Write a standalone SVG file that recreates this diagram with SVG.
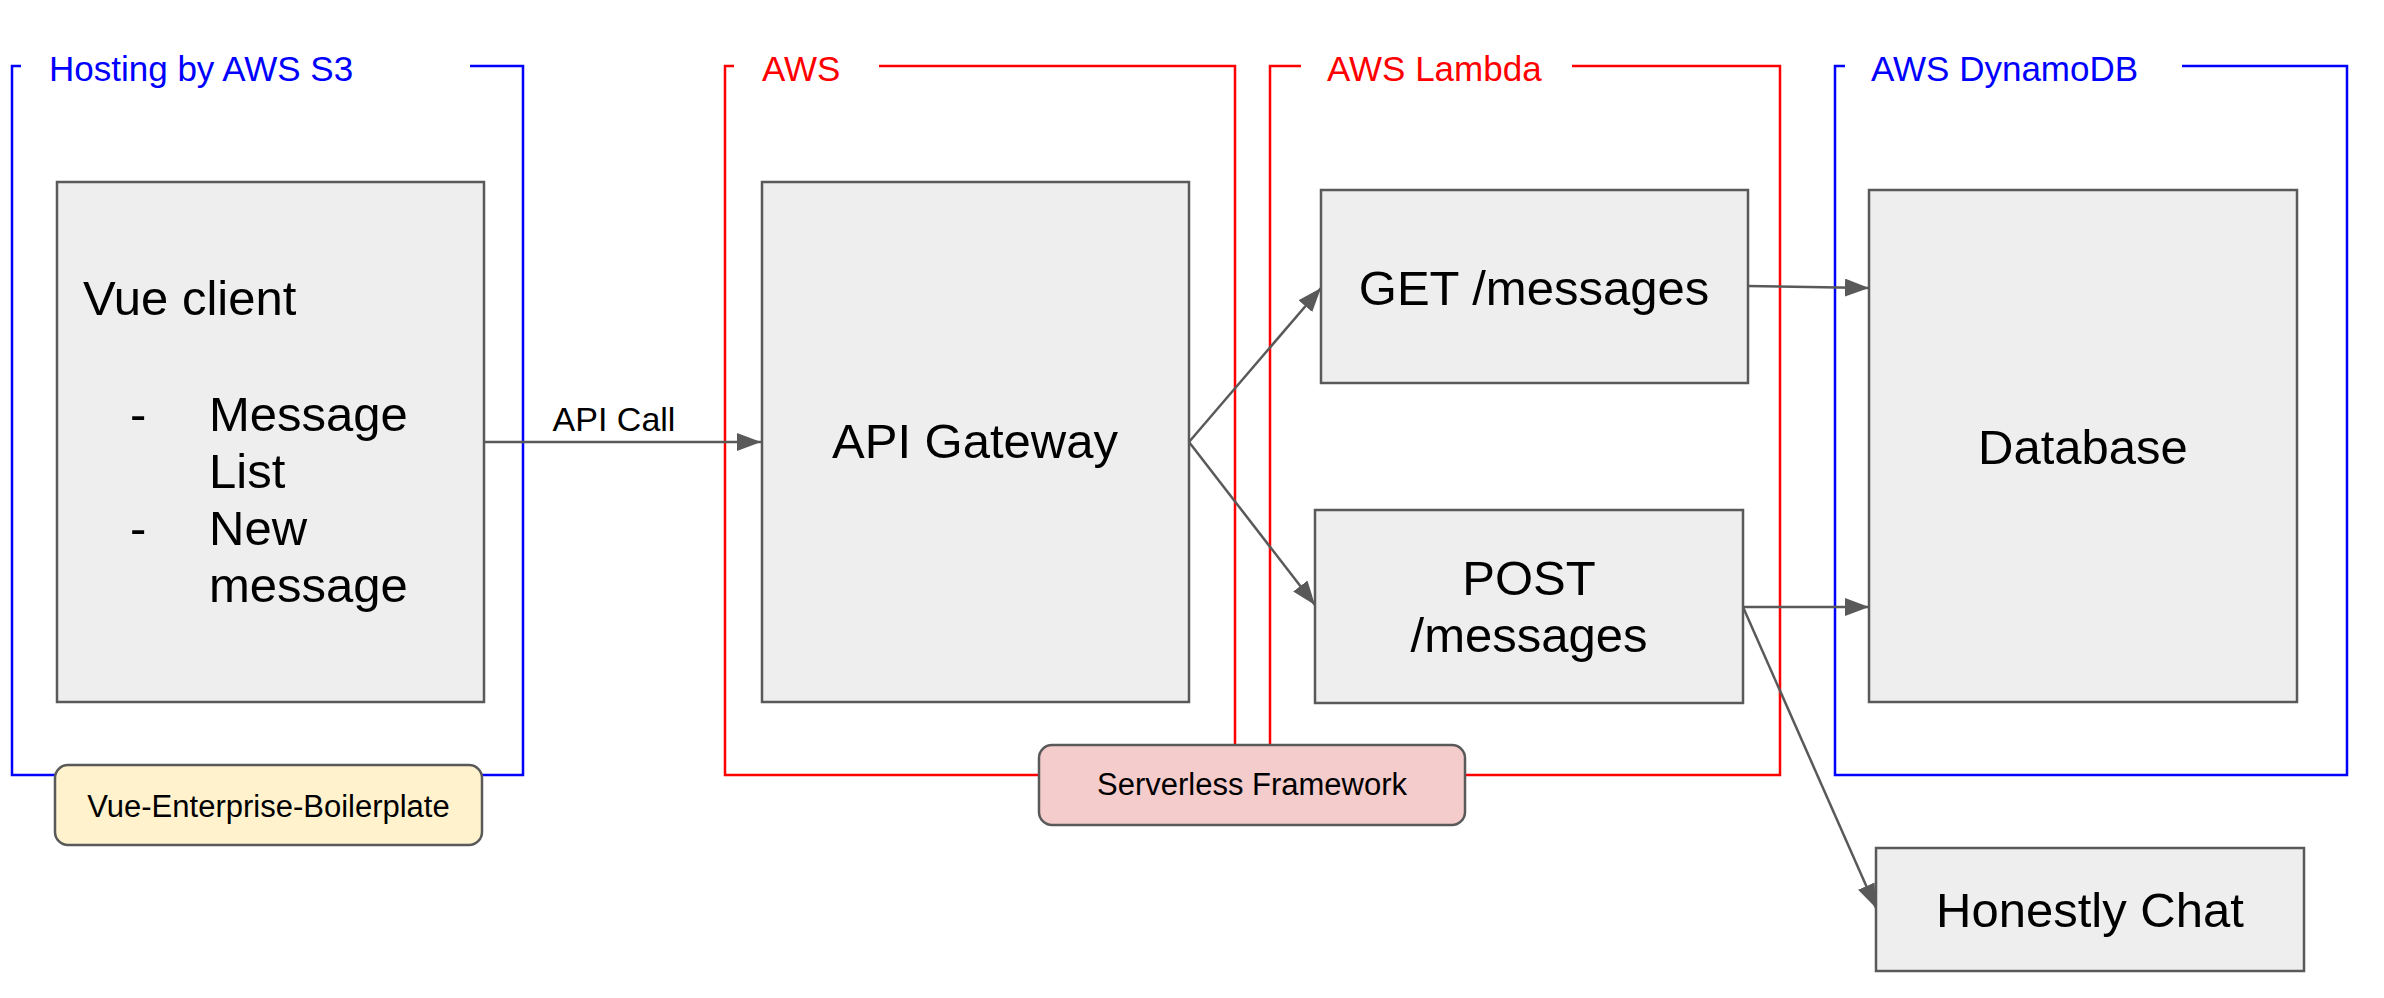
<svg xmlns="http://www.w3.org/2000/svg" width="2384" height="998" viewBox="0 0 2384 998">
<style>
.blue{fill:none;stroke:#0000ff;stroke-width:2.5}
.red{fill:none;stroke:#ff0000;stroke-width:2.5}
.btitle{fill:#0000ff;font-family:"Liberation Sans",Arial,sans-serif;font-size:35px}
.rtitle{fill:#ff0000;font-family:"Liberation Sans",Arial,sans-serif;font-size:35px}
.box{fill:#eeeeee;stroke:#595959;stroke-width:2.5}
.big{fill:#000;font-family:"Liberation Sans",Arial,sans-serif;font-size:49px}
.mid{fill:#000;font-family:"Liberation Sans",Arial,sans-serif;font-size:31px}
.lbl{fill:#000;font-family:"Liberation Sans",Arial,sans-serif;font-size:34px}
.conn{fill:none;stroke:#595959;stroke-width:2.5}
</style>
<defs>
<marker id="arr" markerUnits="userSpaceOnUse" markerWidth="26" markerHeight="20" refX="24" refY="9" orient="auto">
<path d="M0,0 L24,9 L0,18 Z" fill="#595959"/>
</marker>
</defs>
<g id="groups">
<g id="s3-group">
<path class="blue" d="M21,66 H12 V775 H523 V66 H470"/>
<text class="btitle" x="49" y="81">Hosting by AWS S3</text>
</g>
<g id="aws-group">
<path class="red" d="M734,66 H725 V775 H1235 V66 H879"/>
<text class="rtitle" x="762" y="81">AWS</text>
</g>
<g id="lambda-group">
<path class="red" d="M1301,66 H1270 V775 H1780 V66 H1572"/>
<text class="rtitle" x="1327" y="81">AWS Lambda</text>
</g>
<g id="dynamo-group">
<path class="blue" d="M1845,66 H1835 V775 H2347 V66 H2182"/>
<text class="btitle" x="1871" y="81">AWS DynamoDB</text>
</g>
</g>
<g id="connectors">
<line class="conn" x1="484" y1="442" x2="761" y2="442" marker-end="url(#arr)"/>
<text class="lbl" x="614" y="431" text-anchor="middle">API Call</text>
<line class="conn" x1="1189" y1="442" x2="1321" y2="288" marker-end="url(#arr)"/>
<line class="conn" x1="1189" y1="442" x2="1315" y2="605" marker-end="url(#arr)"/>
<line class="conn" x1="1747" y1="286" x2="1869" y2="288" marker-end="url(#arr)"/>
<line class="conn" x1="1743" y1="607" x2="1869" y2="607" marker-end="url(#arr)"/>
<line class="conn" x1="1743" y1="607" x2="1876" y2="908" marker-end="url(#arr)"/>
</g>
<g id="vue-client">
<rect class="box" x="57" y="182" width="427" height="520"/>
<text class="big" x="83" y="315">Vue client</text>
<text class="big" x="130" y="431">-</text>
<text class="big" x="209" y="431">Message</text>
<text class="big" x="209" y="488">List</text>
<text class="big" x="130" y="545">-</text>
<text class="big" x="209" y="545">New</text>
<text class="big" x="209" y="602">message</text>
</g>
<g id="api-gateway">
<rect class="box" x="762" y="182" width="427" height="520"/>
<text class="big" x="975" y="458" text-anchor="middle">API Gateway</text>
</g>
<g id="get-messages">
<rect class="box" x="1321" y="190" width="427" height="193"/>
<text class="big" x="1534" y="305" text-anchor="middle">GET /messages</text>
</g>
<g id="post-messages">
<rect class="box" x="1315" y="510" width="428" height="193"/>
<text class="big" x="1529" y="595" text-anchor="middle">POST</text>
<text class="big" x="1529" y="652" text-anchor="middle">/messages</text>
</g>
<g id="database">
<rect class="box" x="1869" y="190" width="428" height="512"/>
<text class="big" x="2083" y="464" text-anchor="middle">Database</text>
</g>
<g id="honestly-chat">
<rect class="box" x="1876" y="848" width="428" height="123"/>
<text class="big" x="2090" y="927" text-anchor="middle">Honestly Chat</text>
</g>
<g id="vue-boilerplate">
<rect x="55" y="765" width="427" height="80" rx="13" fill="#fff2cc" stroke="#595959" stroke-width="2.5"/>
<text class="mid" x="268.5" y="817" text-anchor="middle">Vue-Enterprise-Boilerplate</text>
</g>
<g id="serverless-framework">
<rect x="1039" y="745" width="426" height="80" rx="13" fill="#f4cccc" stroke="#595959" stroke-width="2.5"/>
<text class="mid" x="1252" y="795" text-anchor="middle">Serverless Framework</text>
</g>
</svg>
